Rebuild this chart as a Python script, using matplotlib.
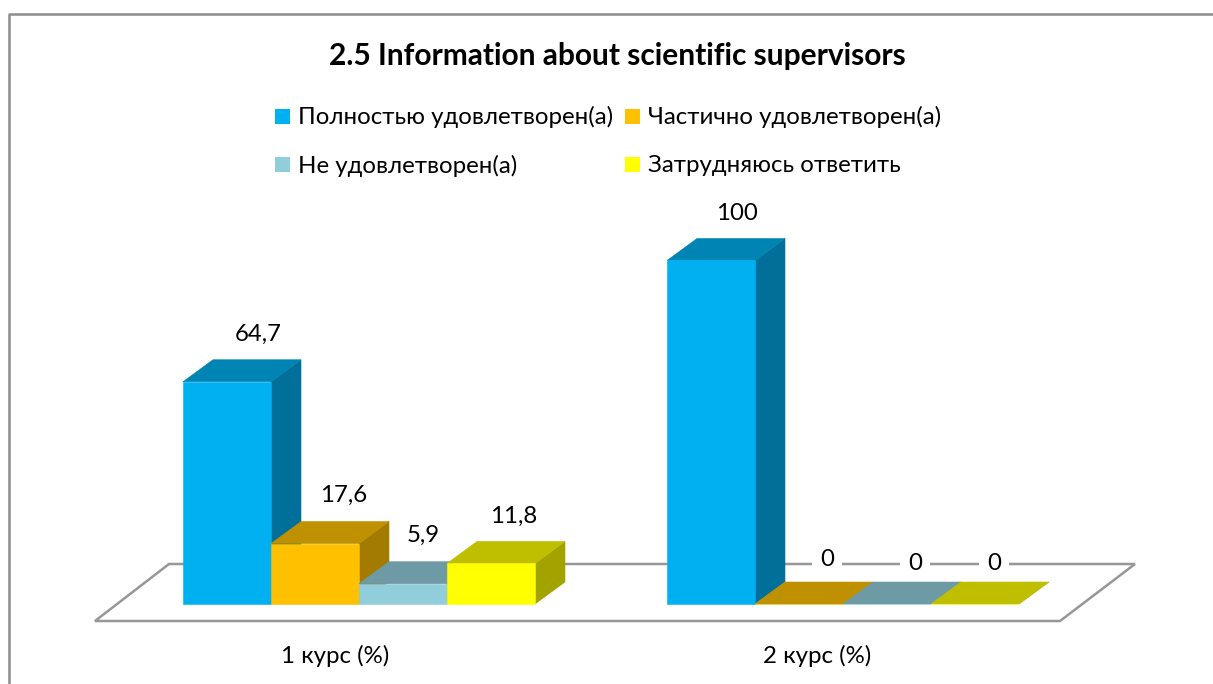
import matplotlib
matplotlib.use('Agg')
from matplotlib import pyplot as plt
from matplotlib.patches import Polygon, Rectangle

plt.rcParams['font.family'] = ['Lato', 'Noto Sans', 'DejaVu Sans']

title = '2.5 Information about scientific supervisors'
courses = ['1 курс (%)', '2 курс (%)']
answers = ['Полностью удовлетворен(а)', 'Частично удовлетворен(а)',
           'Не удовлетворен(а)', 'Затрудняюсь ответить']
course1 = [64.7, 17.6, 5.9, 11.8]
course2 = [100, 0, 0, 0]
label1 = ['64,7', '17,6', '5,9', '11,8']
label2 = ['100', '0', '0', '0']

front = ['#00B0F0', '#FFC000', '#92CDDC', '#FFFF00']
top = ['#0084B4', '#BF9000', '#6E9AA5', '#BFBF00']
side = ['#00709A', '#A37B00', '#5D8390', '#A3A300']

W, H = 1213, 684
PX_X = 88.0     # one bar wide
PX_Y = 3.435    # one percent high
DX = 30 / PX_X
DY = 22 / PX_Y
GROUP_STEP = 5.5
FS = 17.3

fig = plt.figure(figsize=(W / 100, H / 100), dpi=100)
ax = fig.add_axes([0, 0, 1, 1])
ax.set_xlim(-183 / PX_X, (W - 183) / PX_X)
ax.set_ylim(-(H - 604) / PX_Y, 604 / PX_Y)
ax.axis('off')


def xp(px):
    return (px - 183) / PX_X


def yp(py):
    return (604 - py) / PX_Y


# chart border, only left and top show
ax.plot([xp(8.5), xp(8.5), xp(1213)], [yp(684), yp(13.5), yp(13.5)],
        color='#8C8C8C', lw=1.8, zorder=1)

# floor
floor = [(xp(95), yp(621)), (xp(1060), yp(621)), (xp(1135), yp(564)), (xp(169), yp(564))]
ax.add_patch(Polygon(floor, closed=True, fc='white', ec='#979797', lw=1.8, zorder=2))


def draw_bar(x, v, i):
    ax.add_patch(Polygon([(x + 1, 0), (x + 1 + DX, DY), (x + 1 + DX, v + DY), (x + 1, v)],
                         fc=side[i], ec=side[i], lw=0.4, zorder=3 + i))
    ax.add_patch(Polygon([(x, v), (x + 1, v), (x + 1 + DX, v + DY), (x + DX, v + DY)],
                         fc=top[i], ec=top[i], lw=0.4, zorder=3 + i))
    ax.add_patch(Rectangle((x, 0), 1, v, fc=front[i], ec=front[i], lw=0.4, zorder=3 + i))


for g, vals in enumerate([course1, course2]):
    for i, v in enumerate(vals):
        draw_bar(g * GROUP_STEP + i, v, i)

# value labels, Excel places them a bit unevenly
lab1_dx = [75, 73, 64, 67]
lab2_dx = [70, 72, 72, 63]
lab1_dy = [47, 48, 48, 47]
lab2_dy = [47, 44, 41, 41]
for i, (v, s) in enumerate(zip(course1, label1)):
    ax.text(i + lab1_dx[i] / PX_X, v + lab1_dy[i] / PX_Y, s, ha='center', va='center',
            fontsize=FS, color='black', zorder=10)
for i, (v, s) in enumerate(zip(course2, label2)):
    # zero labels sit under the bars so their white box only cuts the floor line
    ax.text(GROUP_STEP + i + lab2_dx[i] / PX_X, v + lab2_dy[i] / PX_Y, s, ha='center', va='center',
            fontsize=FS, color='black', zorder=2.5 if i else 10,
            bbox=dict(fc='white', ec='none', pad=6) if i else None)

# category labels
cat_x = [335, 817]
for g, s in enumerate(courses):
    ax.text(xp(cat_x[g]), yp(656), s, ha='center', va='center', fontsize=FS, color='black')

ax.text(xp(617), yp(56), title, ha='center', va='center', fontsize=21.5, fontweight='bold', color='black')

# legend
leg_x = [275, 625, 275, 625]
leg_y = [116, 116, 165, 165]
for i, s in enumerate(answers):
    ax.add_patch(Rectangle((xp(leg_x[i]), yp(leg_y[i] + 7.5)), 15 / PX_X, 15 / PX_Y,
                           fc=front[i], ec='none', zorder=5))
    ax.text(xp(leg_x[i] + 23), yp(leg_y[i] + 1), s, ha='left', va='center', fontsize=FS, color='black')

fig.savefig('out.png', dpi=100)
